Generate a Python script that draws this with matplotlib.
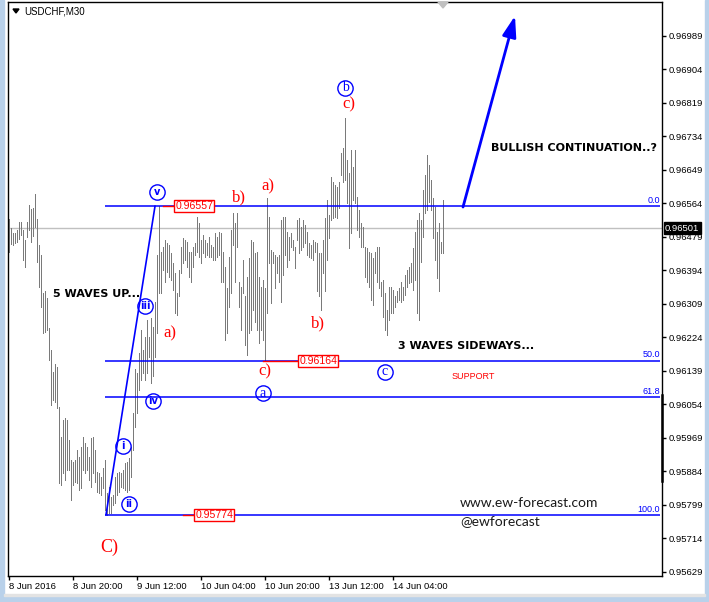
import numpy as np
import matplotlib
matplotlib.use("Agg")
from matplotlib import pyplot as plt
from matplotlib.patches import Rectangle, Polygon

### USDCHF M30 bars, high and low (one bar every 30 min)
highs = [
    0.96525, 0.96502, 0.96489, 0.96489, 0.96497, 0.96517, 0.96517, 0.96497, 0.96471, 0.96517,
    0.96560, 0.96550, 0.96552, 0.96588, 0.96525, 0.96458, 0.96433, 0.96338, 0.96341, 0.96325,
    0.96248, 0.96192, 0.96137, 0.96156, 0.96150, 0.96048, 0.95972, 0.96015, 0.96020, 0.96015,
    0.95964, 0.95914, 0.95908, 0.95914, 0.95939, 0.95921, 0.95946, 0.95972, 0.95956, 0.95946,
    0.95921, 0.95969, 0.95972, 0.95939, 0.95883, 0.95880, 0.95870, 0.95893, 0.95914, 0.95830,
    0.95845, 0.95820, 0.95825, 0.95870, 0.95880, 0.95883, 0.95880, 0.95888, 0.95906, 0.95908,
    0.95919, 0.95946, 0.96032, 0.96143, 0.96135, 0.96185, 0.96243, 0.96192, 0.96225, 0.96268,
    0.96225, 0.96273, 0.96250, 0.96314, 0.96433, 0.96557, 0.96441, 0.96453, 0.96471, 0.96464,
    0.96458, 0.96438, 0.96413, 0.96387, 0.96338, 0.96395, 0.96453, 0.96476, 0.96471, 0.96466,
    0.96441, 0.96441, 0.96453, 0.96464, 0.96530, 0.96514, 0.96471, 0.96484, 0.96471, 0.96464,
    0.96478, 0.96458, 0.96453, 0.96489, 0.96478, 0.96491, 0.96489, 0.96441, 0.96403, 0.96350,
    0.96428, 0.96497, 0.96540, 0.96514, 0.96540, 0.96365, 0.96352, 0.96421, 0.96328, 0.96377,
    0.96426, 0.96471, 0.96466, 0.96438, 0.96441, 0.96377, 0.96352, 0.96370, 0.96350, 0.96578,
    0.96530, 0.96446, 0.96441, 0.96433, 0.96428, 0.96433, 0.96522, 0.96530, 0.96530, 0.96491,
    0.96478, 0.96489, 0.96471, 0.96453, 0.96522, 0.96527, 0.96504, 0.96522, 0.96509, 0.96491,
    0.96464, 0.96458, 0.96471, 0.96466, 0.96464, 0.96438, 0.96438, 0.96471, 0.96527, 0.96573,
    0.96535, 0.96631, 0.96619, 0.96611, 0.96606, 0.96619, 0.96692, 0.96705, 0.96781, 0.96674,
    0.96641, 0.96700, 0.96657, 0.96700, 0.96580, 0.96548, 0.96514, 0.96504, 0.96453, 0.96451,
    0.96441, 0.96438, 0.96426, 0.96441, 0.96453, 0.96453, 0.96365, 0.96370, 0.96338, 0.96294,
    0.96352, 0.96352, 0.96345, 0.96328, 0.96341, 0.96350, 0.96365, 0.96352, 0.96382, 0.96395,
    0.96403, 0.96413, 0.96451, 0.96491, 0.96522, 0.96540, 0.96522, 0.96598, 0.96636, 0.96687,
    0.96662, 0.96624, 0.96578, 0.96555, 0.96491, 0.96514, 0.96466, 0.96573,
]
lows = [
    0.96441, 0.96461, 0.96458, 0.96464, 0.96466, 0.96473, 0.96484, 0.96421, 0.96403, 0.96478,
    0.96497, 0.96466, 0.96481, 0.96504, 0.96415, 0.96352, 0.96301, 0.96235, 0.96238, 0.96243,
    0.96167, 0.96052, 0.96065, 0.96060, 0.96045, 0.95855, 0.95850, 0.95880, 0.95862, 0.95888,
    0.95888, 0.95812, 0.95850, 0.95857, 0.95855, 0.95837, 0.95842, 0.95888, 0.95880, 0.95888,
    0.95862, 0.95845, 0.95880, 0.95857, 0.95832, 0.95830, 0.95825, 0.95842, 0.95786, 0.95774,
    0.95778, 0.95778, 0.95799, 0.95804, 0.95825, 0.95832, 0.95845, 0.95842, 0.95837, 0.95832,
    0.95837, 0.95870, 0.95939, 0.95997, 0.96032, 0.96091, 0.96116, 0.96135, 0.96116, 0.96135,
    0.96175, 0.96108, 0.96125, 0.96175, 0.96235, 0.96338, 0.96338, 0.96395, 0.96365, 0.96390,
    0.96377, 0.96370, 0.96345, 0.96286, 0.96281, 0.96328, 0.96387, 0.96413, 0.96421, 0.96403,
    0.96377, 0.96365, 0.96403, 0.96433, 0.96441, 0.96428, 0.96413, 0.96438, 0.96428, 0.96433,
    0.96428, 0.96428, 0.96421, 0.96421, 0.96428, 0.96433, 0.96365, 0.96365, 0.96218, 0.96235,
    0.96301, 0.96338, 0.96458, 0.96365, 0.96453, 0.96301, 0.96243, 0.96338, 0.96205, 0.96180,
    0.96235, 0.96243, 0.96294, 0.96263, 0.96243, 0.96210, 0.96243, 0.96218, 0.96164, 0.96286,
    0.96413, 0.96312, 0.96413, 0.96350, 0.96387, 0.96365, 0.96314, 0.96382, 0.96433, 0.96403,
    0.96421, 0.96453, 0.96446, 0.96400, 0.96471, 0.96438, 0.96446, 0.96453, 0.96464, 0.96433,
    0.96428, 0.96426, 0.96421, 0.96441, 0.96341, 0.96328, 0.96294, 0.96387, 0.96341, 0.96421,
    0.96476, 0.96522, 0.96527, 0.96530, 0.96527, 0.96552, 0.96636, 0.96619, 0.96624, 0.96565,
    0.96451, 0.96489, 0.96573, 0.96565, 0.96497, 0.96478, 0.96453, 0.96453, 0.96377, 0.96365,
    0.96352, 0.96319, 0.96307, 0.96387, 0.96365, 0.96350, 0.96328, 0.96276, 0.96243, 0.96230,
    0.96268, 0.96286, 0.96286, 0.96301, 0.96314, 0.96319, 0.96314, 0.96319, 0.96333, 0.96352,
    0.96362, 0.96365, 0.96345, 0.96370, 0.96286, 0.96268, 0.96415, 0.96478, 0.96540, 0.96548,
    0.96568, 0.96548, 0.96476, 0.96421, 0.96375, 0.96341, 0.96438, 0.96438,
]

### time axis labels (bar index of each label)
date_ticks = [0, 32, 64, 96, 128, 160, 192]
date_labels = ["8 Jun 2016", "8 Jun 20:00", "9 Jun 12:00", "10 Jun 04:00",
               "10 Jun 20:00", "13 Jun 12:00", "14 Jun 04:00"]

### price axis
price_ticks = [0.95629 + 0.00085 * k for k in range(17)]
last_price = 0.96501

### fibonacci retracement of the 5 wave move
fib_high = 0.96557
fib_low = 0.95774
fib_ratios = [0.0, 50.0, 61.8, 100.0]
fib_names = ["0.0", "50.0", "61.8", "100.0"]
fib_start = 48

### impulse line and forecast arrow (bar index, price)
impulse_x = [48.5, 73]
impulse_y = [0.95774, 0.96557]
arrow_from = (227, 0.96555)
arrow_to = (253, 0.97040)

### price labels: (bar of the extreme, price, start of label box)
price_tags = [(77, 0.96557, 82.5), (87, 0.95774, 92.5), (127, 0.96164, 144.5)]

### elliott wave labels
circle_labels = ["v", "iii", "iv", "i", "ii"]
circle_x = [74, 68, 72, 57, 60]
circle_y = [0.96593, 0.96305, 0.96064, 0.95949, 0.95802]
abc_labels = ["b", "a", "c"]
abc_x = [168, 127, 188]
abc_y = [0.96857, 0.96083, 0.96137]
red_labels = ["a)", "b)", "a)", "c)", "b)", "c)"]
red_x = [80.5, 115, 129.5, 170, 154.5, 128]
red_y = [0.96235, 0.96580, 0.96608, 0.96816, 0.96261, 0.96137]

W, H = 709, 602
fig = plt.figure(figsize=(W / 100, H / 100), dpi=100)
fig.patch.set_facecolor("white")

### window frame like the terminal
fig.add_artist(Rectangle((0, 0), 4 / W, 1, transform=fig.transFigure, color="#b9d1ea", zorder=0))
fig.add_artist(Rectangle((705 / W, 0), 4 / W, 1, transform=fig.transFigure, color="#b9d1ea", zorder=0))
fig.add_artist(Rectangle((0, 0), 1, 6 / H, transform=fig.transFigure, color="#b9d1ea", zorder=0))
fig.add_artist(Rectangle((4 / W, 6 / H), 701 / W, 2 / H, transform=fig.transFigure, color="#e3e3e3", zorder=0))

ax = fig.add_axes([8 / W, 1 - 576 / H, 654 / W, 574 / H])
ax.set_xlim(-0.5, 326.5)
ax.set_ylim(0.956188, 0.970752)
for s in ax.spines.values():
    s.set_linewidth(1)
    s.set_color("black")

### bars
idx = np.arange(len(highs))
ax.vlines(idx, lows, highs, color="#7a7a7a", lw=0.72, antialiased=False, zorder=2)

### last price line
ax.axhline(last_price, color="#c0c0c0", lw=1, zorder=1)

### fib levels
rng = fib_high - fib_low
for r, name in zip(fib_ratios, fib_names):
    lvl = fib_high - r / 100 * rng
    ax.hlines(lvl, fib_start, 325.5, color="#0000ff", lw=1.1, zorder=3)
    ax.text(325.5, lvl + 0.00003, name, color="#0000ff", fontsize=6.5,
            ha="right", va="bottom", family="Liberation Sans", zorder=4)

### impulse line
ax.plot(impulse_x, impulse_y, color="#0000ff", lw=1.2, zorder=4)

### forecast arrow
ax.annotate("", xy=arrow_to, xytext=arrow_from,
            arrowprops=dict(arrowstyle="-|>,head_length=0.9,head_width=0.3",
                            mutation_scale=14, color="#0000ff", lw=2.0,
                            shrinkA=0, shrinkB=0), zorder=5)

### price tags
for bx, p, box_x in price_tags:
    ax.plot([bx, box_x], [p, p], color="#ff0000", lw=1, zorder=4)
    ax.text(box_x + 0.6, p, "%.5f" % p, color="#ff0000", fontsize=7.6,
            family="Liberation Sans", ha="left", va="center", zorder=6,
            bbox=dict(boxstyle="square,pad=0.1", fc="white", ec="#ff0000", lw=1))

### wave labels
ax.plot(circle_x, circle_y, "o", ms=11, mfc="none", mec="#0000ff", mew=1.0, zorder=6)
for t, x, y in zip(circle_labels, circle_x, circle_y):
    ax.text(x, y, t, color="#0000ff", fontsize=7, fontweight="bold",
            ha="center", va="center", zorder=7)
ax.plot(abc_x, abc_y, "o", ms=11, mfc="none", mec="#0000ff", mew=1.0, zorder=6)
for t, x, y in zip(abc_labels, abc_x, abc_y):
    ax.text(x, y, t, color="#0000ff", fontsize=10, family="Liberation Serif",
            ha="center", va="center", zorder=7)
for t, x, y in zip(red_labels, red_x, red_y):
    ax.text(x, y, t, color="#ff0000", fontsize=12, family="Liberation Serif",
            ha="center", va="center", zorder=7)
ax.text(50, 0.95692, "C)", color="#ff0000", fontsize=13, family="Liberation Serif",
        ha="center", va="center", zorder=7)

### comments
ax.text(22, 0.96334, "5 WAVES UP...", fontsize=8, fontweight="bold", ha="left", va="center", zorder=7)
ax.text(241, 0.96704, "BULLISH CONTINUATION..?", fontsize=8, fontweight="bold", ha="left", va="center", zorder=7)
ax.text(194.5, 0.96202, "3 WAVES SIDEWAYS...", fontsize=8, fontweight="bold", ha="left", va="center", zorder=7)
ax.text(221.5, 0.96126, "SUPPORT", fontsize=6.5, color="#ff0000", family="Liberation Sans",
        ha="left", va="center", zorder=7)
ax.text(225.5, 0.95804, "www.ew-forecast.com", fontsize=10, family="Lato", color="#1a1a1a",
        ha="left", va="center", zorder=7)
ax.text(225.5, 0.95758, "@ewforecast", fontsize=10, family="Lato", color="#1a1a1a",
        ha="left", va="center", zorder=7)

### thick marker on price scale
ax.plot([326.3, 326.3], [0.95860, 0.96078], color="black", lw=1.8, clip_on=False, zorder=8)

### ticks
ax.set_xticks(date_ticks)
ax.set_xticklabels(date_labels, ha="left", family="Liberation Sans", fontsize=6.8)
ax.tick_params(axis="x", length=3, width=1, pad=1.5)
ax.yaxis.tick_right()
ax.set_yticks(price_ticks)
ax.set_yticklabels(["%.5f" % p for p in price_ticks], family="Liberation Sans", fontsize=6.8)
ax.tick_params(axis="y", length=3, width=1, pad=2)

### last price box on the scale
ax.text(1.0046, last_price, "%.5f" % last_price, transform=ax.get_yaxis_transform(),
        color="white", fontsize=6.8, family="Liberation Sans", ha="left", va="center",
        bbox=dict(boxstyle="square,pad=0.15", fc="black", ec="black"), clip_on=False, zorder=9)

### title and small markers
fig.text(24 / W, 1 - 11 / H, "USDCHF,M30", fontsize=7, family="Liberation Sans", ha="left", va="center")
fig.add_artist(Polygon([[13 / W, 1 - 9 / H], [19 / W, 1 - 9 / H], [16 / W, 1 - 13 / H]],
                       closed=True, transform=fig.transFigure, color="black"))
fig.add_artist(Polygon([[438 / W, 1 - 2 / H], [448 / W, 1 - 2 / H], [443 / W, 1 - 8 / H]],
                       closed=True, transform=fig.transFigure, color="#c0c0c0"))

fig.savefig("out.png", dpi=100)
